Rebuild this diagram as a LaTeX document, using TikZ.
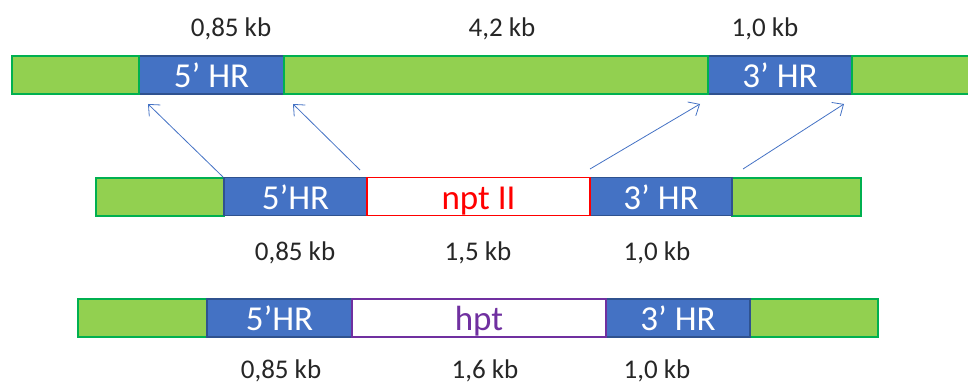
\documentclass[tikz,border=0pt]{standalone}
\usepackage{fontspec}
\setmainfont{Carlito}
\usetikzlibrary{arrows.meta}
\definecolor{gfill}{HTML}{92D050}
\definecolor{gline}{HTML}{00B050}
\definecolor{bfill}{HTML}{4472C4}
\definecolor{bline}{HTML}{2F528F}
\definecolor{rline}{HTML}{FF0000}
\definecolor{pline}{HTML}{7030A0}
\tikzset{
  seg/.style={inner sep=0pt, outer sep=0pt, minimum height=38pt, text height=25pt, text depth=0pt, font=\fontsize{35}{40}\selectfont},
  gseg/.style={seg, draw=gline, fill=gfill, line width=2pt},
  bseg/.style={seg, draw=bline, fill=bfill, line width=1.5pt, text=white},
  rseg/.style={seg, draw=rline, fill=white, line width=1.5pt, text=rline},
  pseg/.style={seg, draw=pline, fill=white, line width=1.5pt, text=pline},
  lbl/.style={inner sep=0pt, font=\fontsize{27}{30}\selectfont, text=black!85},
  arr/.style={draw=bfill, line width=0.8pt, -{Straight Barb[length=9pt,width=16pt,line width=0.8pt]}}
}
\begin{document}
\begin{tikzpicture}[x=1pt,y=-1pt]
\clip (0,0) rectangle (968,385);
% top bar
\node[bseg, minimum width=145pt] (t2) at (211.5,75) {5’ HR};
\node[bseg, minimum width=144pt] (t4) at (780,75) {3’ HR};
\node[gseg, minimum width=127pt] (t1) at (75.5,75) {};
\node[gseg, minimum width=424pt] (t3) at (496,75) {};
\node[gseg, minimum width=120pt] (t5) at (912,75) {};
% middle bar
\node[gseg, minimum width=128pt] (m1) at (160,196.5) {};
\node[gseg, minimum width=129pt] (m5) at (796.5,196.5) {};
\node[bseg, minimum width=143pt] (m2) at (295.5,196.5) {5’HR};
\node[bseg, minimum width=142pt] (m4) at (661,196.5) {3’ HR};
\node[rseg, minimum width=223pt] (m3) at (478.5,196.5) {npt II};
% bottom bar
\node[gseg, minimum width=129pt] (b1) at (142.5,318) {};
\node[gseg, minimum width=128pt] (b5) at (814,318) {};
\node[bseg, minimum width=145pt] (b2) at (279.5,318) {5’HR};
\node[bseg, minimum width=144pt] (b4) at (678,318) {3’ HR};
\node[pseg, minimum width=254pt] (b3) at (479,318) {hpt};
% labels
\node[lbl] (lt1) at (231,28.5) {0,85 kb};
\node[lbl] (lt2) at (502,28.5) {4,2 kb};
\node[lbl] (lt3) at (765,28.5) {1,0 kb};
\node[lbl] (lm1) at (295,252.5) {0,85 kb};
\node[lbl] (lm2) at (478,252.5) {1,5 kb};
\node[lbl] (lm3) at (657,252.5) {1,0 kb};
\node[lbl] (lb1) at (281,370.5) {0,85 kb};
\node[lbl] (lb2) at (485,370.5) {1,6 kb};
\node[lbl] (lb3) at (657,370.5) {1,0 kb};
% arrows
\coordinate (s1) at (223,177);
\coordinate (s2) at (360,170);
\coordinate (s3) at (590,169);
\coordinate (s4) at (743,169);
\coordinate (e1) at (148,104);
\coordinate (e2) at (293,104);
\coordinate (e3) at (700,104);
\coordinate (e4) at (844,104);
\draw[arr] (s1) -- (e1);
\draw[arr] (s2) -- (e2);
\draw[arr] (s3) -- (e3);
\draw[arr] (s4) -- (e4);
\end{tikzpicture}
\end{document}
